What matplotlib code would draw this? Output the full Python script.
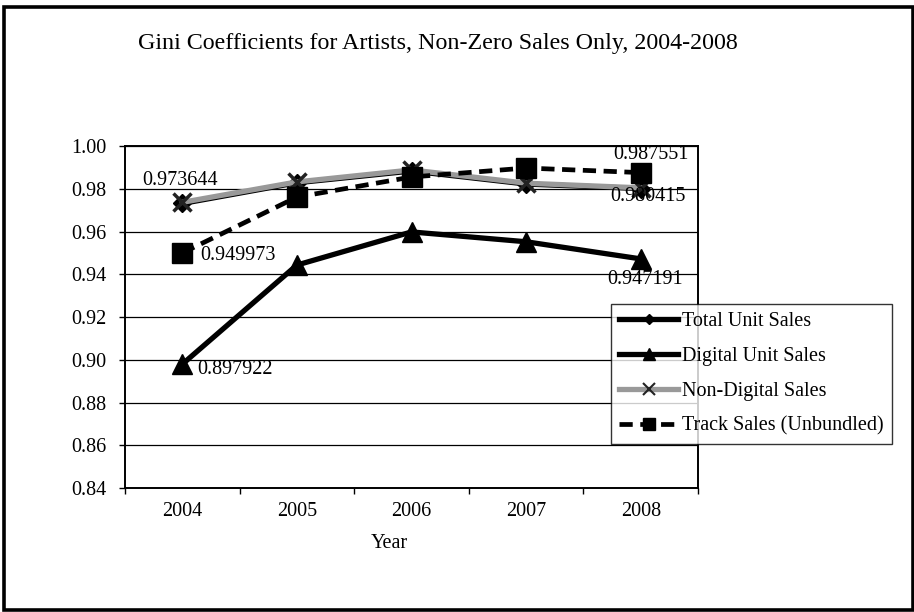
import matplotlib
matplotlib.use("Agg")
import matplotlib.pyplot as plt
from matplotlib.patches import Rectangle
import numpy as np

years = ["2004", "2005", "2006", "2007", "2008"]
total_unit = [0.9731, 0.9828, 0.9883, 0.9822, 0.9801]
digital_unit = [0.897922, 0.9443, 0.9598, 0.9552, 0.947191]
non_digital = [0.973644, 0.9832, 0.9888, 0.9826, 0.980415]
track_sales = [0.949973, 0.9761, 0.9855, 0.9897, 0.987551]
y_ticks = [0.84, 0.86, 0.88, 0.90, 0.92, 0.94, 0.96, 0.98, 1.00]

SERIF = ["Liberation Serif", "DejaVu Serif"]
plt.rcParams["font.family"] = SERIF
FS = 14.5

W, H = 914, 612
fig = plt.figure(figsize=(W / 100, H / 100), dpi=100)
fig.patch.set_facecolor("white")

ax = fig.add_axes([125 / W, 1 - 488 / H, (698 - 125) / W, (488 - 146) / H])
x = np.arange(len(years))

ax.plot(x, total_unit, color="black", lw=3.8, marker="D", ms=9, zorder=3,
        label="Total Unit Sales")
ax.plot(x, digital_unit, color="black", lw=3.8, marker="^", ms=15, zorder=4,
        label="Digital Unit Sales")
ax.plot(x, non_digital, color="#999999", lw=3.8, marker="x", ms=13, mew=2.5,
        mec="#222222", zorder=5, label="Non-Digital Sales")
ax.plot(x, track_sales, color="black", lw=3.4, ls=(0, (2.8, 1.6)), marker="s",
        ms=14.5, zorder=6, label="Track Sales (Unbundled)")

# value labels at the first and last years
lab_kw = dict(fontsize=FS, color="black", zorder=7, textcoords="offset points",
              ha="left", va="center")
ax.annotate(f"{non_digital[0]:.6f}", (x[0], non_digital[0]), xytext=(-29, 16), **lab_kw)
ax.annotate(f"{track_sales[0]:.6f}", (x[0], track_sales[0]), xytext=(13, -2), **lab_kw)
ax.annotate(f"{digital_unit[0]:.6f}", (x[0], digital_unit[0]), xytext=(11, -4), **lab_kw)
ax.annotate(f"{track_sales[-1]:.6f}", (x[-1], track_sales[-1]), xytext=(-19.5, 12.7), **lab_kw)
ax.annotate(f"{non_digital[-1]:.6f}", (x[-1], non_digital[-1]), xytext=(-21.6, -6.5), **lab_kw)
ax.annotate(f"{digital_unit[-1]:.6f}", (x[-1], digital_unit[-1]), xytext=(-23.8, -15), **lab_kw)

ax.set_xlim(-0.5, len(years) - 0.5)
ax.set_ylim(0.84, 1.00)
ax.set_yticks(y_ticks)
ax.set_yticklabels([f"{v:.2f}" for v in y_ticks], fontfamily=SERIF, fontsize=FS)
ax.yaxis.grid(True, color="black", lw=0.9)
ax.set_axisbelow(True)

ax.set_xticks(np.arange(-0.5, len(years)), labels=[""] * (len(years) + 1))
ax.set_xticks(x, minor=True)
ax.set_xticklabels(years, minor=True, fontfamily=SERIF, fontsize=FS)
ax.tick_params(axis="x", which="major", direction="out", length=4.5, width=1)
ax.tick_params(axis="x", which="minor", length=0, pad=10)
ax.tick_params(axis="y", direction="out", length=4.5, width=1, pad=8.6)
for s in ax.spines.values():
    s.set_linewidth(1.4)

fig.text(389 / W, 1 - 544 / H, "Year", ha="center", va="center", fontsize=FS)
fig.text(438 / W, 1 - 43 / H,
         "Gini Coefficients for Artists, Non-Zero Sales Only, 2004-2008",
         ha="center", va="center", fontsize=17.3)

leg = fig.legend(loc="upper left", bbox_to_anchor=(611 / W, 1 - 304 / H),
                 bbox_transform=fig.transFigure, fontsize=FS, frameon=True,
                 fancybox=False, edgecolor="black", handlelength=2.95,
                 handletextpad=0.2, borderpad=0.4, labelspacing=0.78,
                 borderaxespad=0)
leg.get_frame().set_linewidth(1.0)
for h in leg.legend_handles:
    m = h.get_marker()
    if m in ("^", "s"):
        h.set_markersize(9)
    elif m == "D":
        h.set_markersize(5)
    elif m == "x":
        h.set_markersize(9)
        h.set_markeredgewidth(1.5)

fig.patches.append(Rectangle((3.5 / W, 2.5 / H), 909 / W, 602.5 / H,
                             transform=fig.transFigure, fill=False,
                             edgecolor="black", lw=2.6))

fig.savefig("out.png", dpi=100)
